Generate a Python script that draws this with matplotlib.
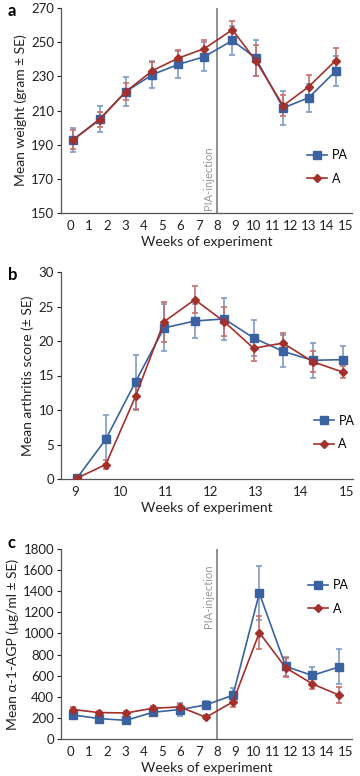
import matplotlib
matplotlib.use("Agg")
import matplotlib.pyplot as plt

plt.rcParams['font.family'] = ['Lato', 'DejaVu Sans']

BLUE = '#3A62A0'
RED = '#A3302B'
BLUE_E = '#7F9BC8'
RED_E = '#C8706A'

# Panel a: weight
a_x = [0.15, 1.58, 3.0, 4.46, 5.88, 7.3, 8.83, 10.1, 11.6, 13.0, 14.46]
a_pa = [193, 205, 221, 231, 237, 241.5, 251, 240.7, 211.5, 217.5, 233]
a_pa_se = [7, 7.7, 8.5, 8, 8, 8.6, 8.3, 10.6, 9.8, 8.3, 8.8]
a_a = [193, 204.6, 221, 233.3, 240.7, 246.2, 257.3, 239.2, 212.8, 224, 239.2]
a_a_se = [5.5, 4.5, 5, 5, 5, 5, 5, 9, 6, 6.5, 7.4]

# Panel b: arthritis score
b_x = [9.04, 9.68, 10.34, 10.97, 11.65, 12.3, 12.95, 13.6, 14.26, 14.92]
b_pa = [0.1, 5.74, 14.1, 21.9, 22.9, 23.2, 20.45, 18.5, 17.2, 17.3]
b_pa_se = [0, 3.6, 3.9, 3.4, 2.5, 3.0, 2.6, 2.3, 2.5, 2.0]
b_a = [0.1, 2.1, 12.0, 22.8, 26.0, 22.8, 18.95, 19.7, 17.0, 15.5]
b_a_se = [0, 0.6, 2.0, 2.9, 1.9, 2.1, 1.8, 1.4, 1.5, 0.9]

# Panel c: alpha-1-AGP
c_x = [0.15, 1.56, 3.03, 4.48, 5.95, 7.39, 8.86, 10.3, 11.74, 13.19, 14.66]
c_pa = [228, 193, 177, 253, 279, 323, 415, 1381, 688, 602, 684]
c_pa_se = [30, 25, 25, 30, 60, 40, 70, 255, 90, 80, 165]
c_a = [279, 250, 247, 291, 304, 206, 352, 1008, 675, 523, 415]
c_a_se = [25, 20, 20, 25, 30, 20, 45, 155, 90, 45, 75]

W, H = 360, 776
fig = plt.figure(figsize=(W / 100, H / 100), dpi=100)

def ax_rect(l, t, r, b):
    return [l / W, 1 - b / H, (r - l) / W, (b - t) / H]

def draw(ax, x, pa, pa_se, a, a_se):
    ax.errorbar(x, pa, yerr=pa_se, fmt='none', ecolor=BLUE_E, elinewidth=1.2,
                capsize=2.5, capthick=1.2, zorder=2)
    ax.errorbar(x, a, yerr=a_se, fmt='none', ecolor=RED_E, elinewidth=1.2,
                capsize=2.5, capthick=1.2, zorder=2)
    ax.plot(x, pa, '-s', color=BLUE, lw=1.2, ms=6, label='PA', zorder=3,
            mec=BLUE)
    ax.plot(x, a, '-D', color=RED, lw=1.2, ms=3.8, label='A', zorder=4, mec=RED)

def style(ax):
    for s in ['top', 'right']:
        ax.spines[s].set_visible(False)
    for s in ['left', 'bottom']:
        ax.spines[s].set_color('#555555')
        ax.spines[s].set_linewidth(0.9)
    ax.tick_params(axis='both', labelsize=9.5, colors='#222222', length=3,
                   width=0.8, pad=2)
    ax.tick_params(axis='x', length=0, pad=5)
    ax.set_xlabel('Weeks of experiment', fontsize=10, labelpad=3, color='#222222')

def legend(ax, x_px, y0):
    x0 = (x_px - 61) / 292
    leg = ax.legend(loc='upper left', bbox_to_anchor=(x0, y0), frameon=False,
                    fontsize=9, handlelength=1.6, handletextpad=0.35,
                    labelspacing=0.9, borderpad=0, borderaxespad=0)
    return leg

# a
ax = fig.add_axes(ax_rect(61, 8, 352, 213))
draw(ax, a_x, a_pa, a_pa_se, a_a, a_a_se)
ax.axvline(8, color='#888888', lw=1.3, zorder=1)
ax.text(7.82, 151.5, 'PIA-injection', rotation=90, ha='right', va='bottom',
        fontsize=8, color='#999999')
ax.set_xlim(-0.53, 15.36)
ax.set_ylim(150, 270)
ax.set_yticks(range(150, 271, 20))
ax.set_xticks(range(0, 16))
ax.set_ylabel('Mean weight (gram ± SE)', fontsize=10, labelpad=3, color='#222222')
style(ax)
legend(ax, 308, 0.31)
fig.text(8 / W, 1 - 11 / H, 'a', fontsize=12, fontweight='bold', va='center')

# b
ax = fig.add_axes(ax_rect(61, 272, 353, 479))
draw(ax, b_x, b_pa, b_pa_se, b_a, b_a_se)
ax.set_xlim(8.69, 15.15)
ax.set_ylim(0, 30)
ax.set_yticks(range(0, 31, 5))
ax.set_xticks(range(9, 16))
ax.set_ylabel('Mean arthritis score (± SE)', fontsize=10, labelpad=3, color='#222222')
style(ax)
legend(ax, 314, 0.31)
fig.text(8 / W, 1 - 275 / H, 'b', fontsize=12, fontweight='bold', va='center')

# c
ax = fig.add_axes(ax_rect(61, 549, 352, 739))
draw(ax, c_x, c_pa, c_pa_se, c_a, c_a_se)
ax.axvline(8, color='#888888', lw=1.3, zorder=1)
ax.text(7.82, 1050, 'PIA-injection', rotation=90, ha='right', va='bottom',
        fontsize=8, color='#999999')
ax.set_xlim(-0.53, 15.36)
ax.set_ylim(0, 1800)
ax.set_yticks(range(0, 1801, 200))
ax.set_xticks(range(0, 16))
ax.set_ylabel('Mean α-1-AGP (µg/ml ± SE)', fontsize=10, labelpad=3, color='#222222')
style(ax)
legend(ax, 309, 0.84)
fig.text(8 / W, 1 - 543 / H, 'c', fontsize=12, fontweight='bold', va='center')

fig.savefig('out.png', dpi=100, facecolor='white')
